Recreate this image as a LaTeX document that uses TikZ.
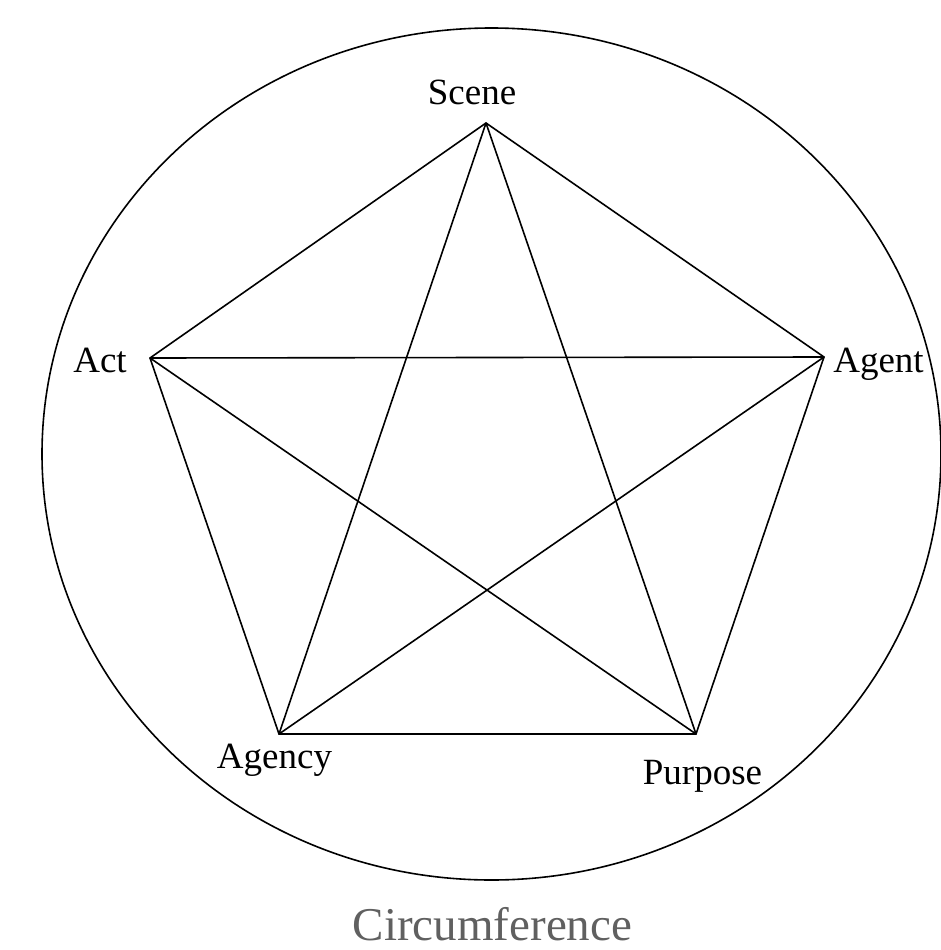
\documentclass[tikz,border=0pt]{standalone}
\usepackage{fontspec}
\setmainfont{Liberation Serif}
\definecolor{capgray}{HTML}{606060}
\begin{document}
\begin{tikzpicture}[x=1pt,y=-1pt,
  edge/.style={line width=1.6pt,black},
  lbl/.style={inner sep=0pt,anchor=base,font=\fontsize{37}{40}\selectfont},
  caption/.style={inner sep=0pt,anchor=base,text=capgray,font=\fontsize{47}{50}\selectfont}]
\useasboundingbox (0,0) rectangle (941,950);
\draw[edge] (491.5,454) ellipse [x radius=449.5, y radius=426];
\coordinate (scene) at (486,123);
\coordinate (act) at (150,358);
\coordinate (agent) at (824,357);
\coordinate (agency) at (279,734);
\coordinate (purpose) at (696,734);
\draw[edge,line join=miter] (scene) -- (agent) -- (purpose) -- (agency) -- (act) -- cycle;
\draw[edge] (scene) -- (agency);
\draw[edge] (scene) -- (purpose);
\draw[edge] (act) -- (agent);
\draw[edge] (act) -- (purpose);
\draw[edge] (agent) -- (agency);
\node[lbl] (tscene) at (472,104) {Scene};
\node[lbl] (tact) at (100,372) {Act};
\node[lbl] (tagent) at (878.5,372) {Agent};
\node[lbl] (tagency) at (274.5,768) {Agency};
\node[lbl] (tpurpose) at (702.5,784) {Purpose};
\node[caption] (tcirc) at (492.5,940) {Circumference};
\end{tikzpicture}
\end{document}
